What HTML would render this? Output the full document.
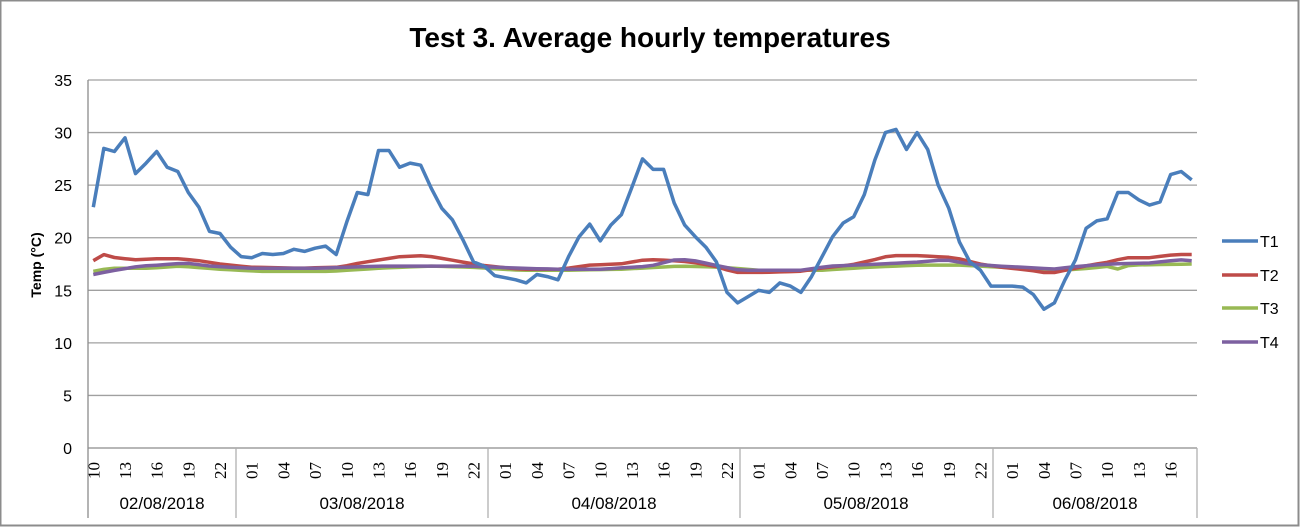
<!DOCTYPE html>
<html><head><meta charset="utf-8">
<style>
html,body{margin:0;padding:0;background:#fff;}
#c{position:relative;width:1300px;height:527px;overflow:hidden;}
</style></head>
<body><div id="c">
<svg id="s" width="1300" height="527" xmlns="http://www.w3.org/2000/svg" font-family="Liberation Sans, sans-serif">
<rect x="0.5" y="0.5" width="1298" height="525" fill="#fff" stroke="#8c8c8c" stroke-width="2"/>
<text x="650" y="47" text-anchor="middle" font-size="28" font-weight="bold" fill="#000">Test 3. Average hourly temperatures</text>
<text transform="translate(41,265) rotate(-90)" text-anchor="middle" font-size="14" font-weight="bold">Temp (°C)</text>
<g id="grid"></g>
<g id="series" fill="none" stroke-width="3.5" stroke-linejoin="round"></g>
<g font-size="16">
<line x1="1222" y1="241" x2="1258" y2="241" stroke="#4a7ebb" stroke-width="3.5"/><text x="1260" y="247">T1</text>
<line x1="1222" y1="275" x2="1258" y2="275" stroke="#be4b48" stroke-width="3.5"/><text x="1260" y="281">T2</text>
<line x1="1222" y1="308" x2="1258" y2="308" stroke="#98b954" stroke-width="3.5"/><text x="1260" y="314">T3</text>
<line x1="1222" y1="342" x2="1258" y2="342" stroke="#7d60a0" stroke-width="3.5"/><text x="1260" y="348">T4</text>
</g>
</svg>
<script>
var NS="http://www.w3.org/2000/svg";
var s=document.getElementById('s'),g=document.getElementById('grid'),se=document.getElementById('series');
function el(t,a,p,txt){var e=document.createElementNS(NS,t);for(var k in a)e.setAttribute(k,a[k]);if(txt!=null)e.textContent=txt;(p||g).appendChild(e);return e;}
var L=88,R=1197,Y0=448,K=10.514,N=105,W=(R-L)/N;
function Y(v){return Y0-K*v;}
function X(i){return L+W*(i+0.5);}
for(var v=0;v<=35;v+=5){
  el('line',{x1:L,x2:R,y1:Y(v),y2:Y(v),stroke:v==0?'#8c8c8c':'#a0a0a0','stroke-width':1.3});
  el('text',{x:72,y:Y(v)+6,'text-anchor':'end','font-size':16},null,String(v));
}
el('line',{x1:L,x2:L,y1:80,y2:518,stroke:'#8c8c8c','stroke-width':1.3});
[236,488,740,993,1197].forEach(function(x){el('line',{x1:x,x2:x,y1:448,y2:518,stroke:'#b0b0b0','stroke-width':1.3});});
var dates=[[162,'02/08/2018'],[362,'03/08/2018'],[614,'04/08/2018'],[866,'05/08/2018'],[1095,'06/08/2018']];
dates.forEach(function(d){el('text',{x:d[0],y:509,'text-anchor':'middle','font-size':17},null,d[1]);});
for(var i=0;i<N;i++){var h=(10+i)%24;if(h%3==1){var x=X(i);
  el('text',{transform:'translate('+(x+6)+',462) rotate(-90)','text-anchor':'end','font-size':17,'font-family':'Liberation Serif, serif'},null,(h<10?'0':'')+h);}}
var t1=[22.9,28.5,28.2,29.5,26.1,27.1,28.2,26.7,26.3,24.3,22.9,20.6,20.4,19.1,
18.2,18.1,18.5,18.4,18.5,18.9,18.7,19.0,19.2,18.4,21.5,24.3,24.1,28.3,28.3,26.7,27.1,26.9,24.7,22.8,21.7,19.8,17.7,17.3,
16.4,16.2,16.0,15.7,16.5,16.3,16.0,18.2,20.1,21.3,19.7,21.2,22.2,24.8,27.5,26.5,26.5,23.3,21.2,20.1,19.1,17.7,14.8,13.8,
14.4,15.0,14.8,15.7,15.4,14.8,16.3,18.2,20.1,21.4,22.0,24.1,27.4,30.0,30.3,28.4,30.0,28.4,25.0,22.8,19.6,17.7,16.9,15.4,
15.4,15.4,15.3,14.6,13.2,13.8,16.0,17.9,20.9,21.6,21.8,24.3,24.3,23.6,23.1,23.4,26.0,26.3,25.5];
function interp(kp){var a=[];for(var i=0;i<N;i++){var x=X(i);var j=0;while(j<kp.length-2&&kp[j+1][0]<x)j++;var p=kp[j],q=kp[j+1];var t=Math.max(0,Math.min(1,(x-p[0])/(q[0]-p[0])));a.push(p[1]+(q[1]-p[1])*t);}return a;}
var t2=interp([[93,17.8],[104,18.4],[115,18.1],[135,17.9],[155,18.0],[180,18.0],[200,17.8],[220,17.5],[250,17.2],[300,17.1],[340,17.2],[360,17.6],[400,18.2],[425,18.3],[450,17.9],[480,17.4],[520,17.0],[560,17.0],[590,17.4],[620,17.5],[645,17.9],[660,17.9],[690,17.7],[715,17.3],[735,16.7],[760,16.7],[800,16.8],[820,17.1],[850,17.4],[870,17.8],[890,18.3],[920,18.3],[955,18.1],[980,17.5],[1000,17.2],[1030,16.9],[1050,16.6],[1070,17.0],[1090,17.4],[1110,17.7],[1125,18.1],[1150,18.1],[1175,18.4],[1192,18.4]]);
var t3=interp([[93,16.8],[110,17.1],[150,17.1],[180,17.3],[220,17.0],[260,16.8],[330,16.8],[380,17.1],[430,17.3],[470,17.2],[520,16.9],[560,16.9],[620,17.0],[680,17.3],[720,17.2],[760,16.9],[820,16.9],[870,17.2],[920,17.4],[960,17.4],[1000,17.2],[1060,16.9],[1090,17.1],[1110,17.3],[1117,17.0],[1130,17.4],[1192,17.5]]);
var t4=interp([[93,16.5],[115,16.9],[140,17.3],[160,17.4],[185,17.6],[210,17.3],[250,17.1],[320,17.1],[380,17.3],[470,17.3],[520,17.1],[560,17.0],[600,17.0],[650,17.3],[675,17.9],[690,17.9],[720,17.3],[740,16.9],[800,16.9],[830,17.3],[880,17.5],[920,17.7],[945,17.9],[970,17.5],[1000,17.3],[1040,17.1],[1052,17.0],[1080,17.3],[1110,17.5],[1150,17.6],[1180,17.9],[1192,17.8]]);
function draw(d,c){var p=d.map(function(v,i){return X(i).toFixed(1)+','+Y(v).toFixed(1);}).join(' ');el('polyline',{points:p,stroke:c},se);}
draw(t3,'#98b954');draw(t2,'#be4b48');draw(t4,'#7d60a0');draw(t1,'#4a7ebb');
</script>
</div></body></html>
